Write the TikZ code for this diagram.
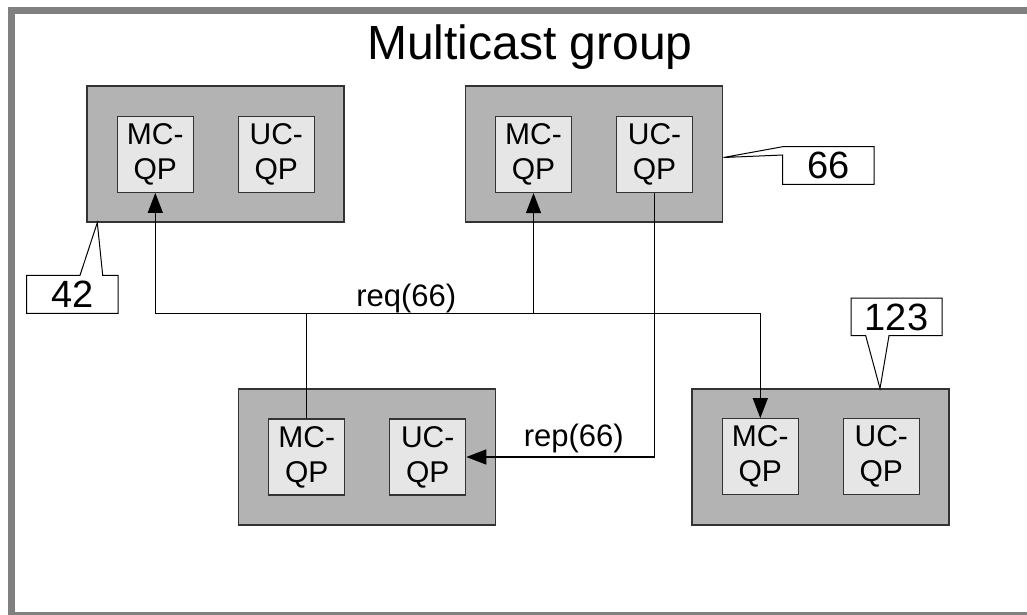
\documentclass[tikz,border=0pt]{standalone}
\usepackage{fontspec}
\setmainfont{Liberation Sans}
\usetikzlibrary{arrows.meta}

\definecolor{framegray}{HTML}{808080}
\definecolor{hostfill}{HTML}{B3B3B3}
\definecolor{qpfill}{HTML}{E6E6E6}
\definecolor{edgegray}{HTML}{333333}

\tikzset{
  hostbox/.style={draw=edgegray, fill=hostfill, line width=1.2pt,
    minimum width=257pt, minimum height=136pt, inner sep=0pt},
  qpbox/.style={draw=edgegray, fill=qpfill, line width=1.2pt,
    minimum width=76pt, minimum height=76pt, inner sep=0pt, align=center,
    font=\fontsize{30}{35}\selectfont},
  conn/.style={draw=black, line width=1.3pt},
  arrowconn/.style={conn, -{Triangle[length=20pt, width=15pt]}},
  callout/.style={draw=black, fill=white, line width=1pt},
  numtext/.style={inner sep=0pt, font=\fontsize{38}{44}\selectfont},
  msgtext/.style={inner sep=0pt, anchor=base, font=\fontsize{31}{36}\selectfont},
}

\begin{document}
\begin{tikzpicture}[x=1pt, y=-1pt]
\useasboundingbox (0,0) rectangle (1027,615);
\clip (0,0) rectangle (1027,615);
\fill[white] (0,0) rectangle (1027,615);

% group frame, running off the right and bottom edges
\draw[framegray, line width=7pt] (11.7,11) rectangle (1045,615.3);

\node[msgtext, font=\fontsize{48}{56}\selectfont] (title) at (530,60) {Multicast group};

% hosts with their queue pairs
\node[hostbox] (h1) at (215.5,154) {};
\node[qpbox] (mc1) at (155.3,154.3) {MC-\\QP};
\node[qpbox] (uc1) at (276.3,154.3) {UC-\\QP};

\node[hostbox] (h2) at (594,154) {};
\node[qpbox] (mc2) at (533.5,154.5) {MC-\\QP};
\node[qpbox] (uc2) at (654.5,154.5) {UC-\\QP};

\node[hostbox] (h3) at (367,457) {};
\node[qpbox] (mc3) at (306.7,457) {MC-\\QP};
\node[qpbox] (uc3) at (427.7,457) {UC-\\QP};

\node[hostbox] (h4) at (820.5,457) {};
\node[qpbox] (mc4) at (760.3,456.7) {MC-\\QP};
\node[qpbox] (uc4) at (881.3,456.7) {UC-\\QP};

% multicast request bus
\coordinate (bus) at (0,313.3);
\draw[conn] (mc3.north) -- (mc3.north |- bus);
\draw[arrowconn] (mc3.north |- bus) -| (mc1.south);
\draw[arrowconn] (mc3.north |- bus) -| (mc4.north);
\draw[arrowconn] (mc2.south |- bus) -- (mc2.south);
\node[msgtext] (req) at (406.3,306.7) {req(66)};

% unicast reply
\draw[arrowconn] (uc2.south) |- (uc3.east);
\node[msgtext] (rep) at (573.8,446.7) {rep(66)};

% address callouts
\draw[callout] (26.7,275.3) -- (80,275.3) -- (97.3,222.7) -- (102.7,275.3)
  -- (118,275.3) -- (118,313.3) -- (26.7,313.3) -- cycle;
\node[numtext] (lbl42) at (72.3,294.3) {42};

\draw[callout] (782.7,146.7) -- (874,146.7) -- (874,184.3) -- (782.7,184.3)
  -- (782.7,155) -- (723.5,157.5) -- cycle;
\node[numtext] (lbl66) at (828.3,165.5) {66};

\draw[callout] (851,298) -- (942,298) -- (942,335.7) -- (889,335.7)
  -- (880,388.5) -- (865.7,335.7) -- (851,335.7) -- cycle;
\node[numtext] (lbl123) at (896.5,317) {123};
\end{tikzpicture}
\end{document}
